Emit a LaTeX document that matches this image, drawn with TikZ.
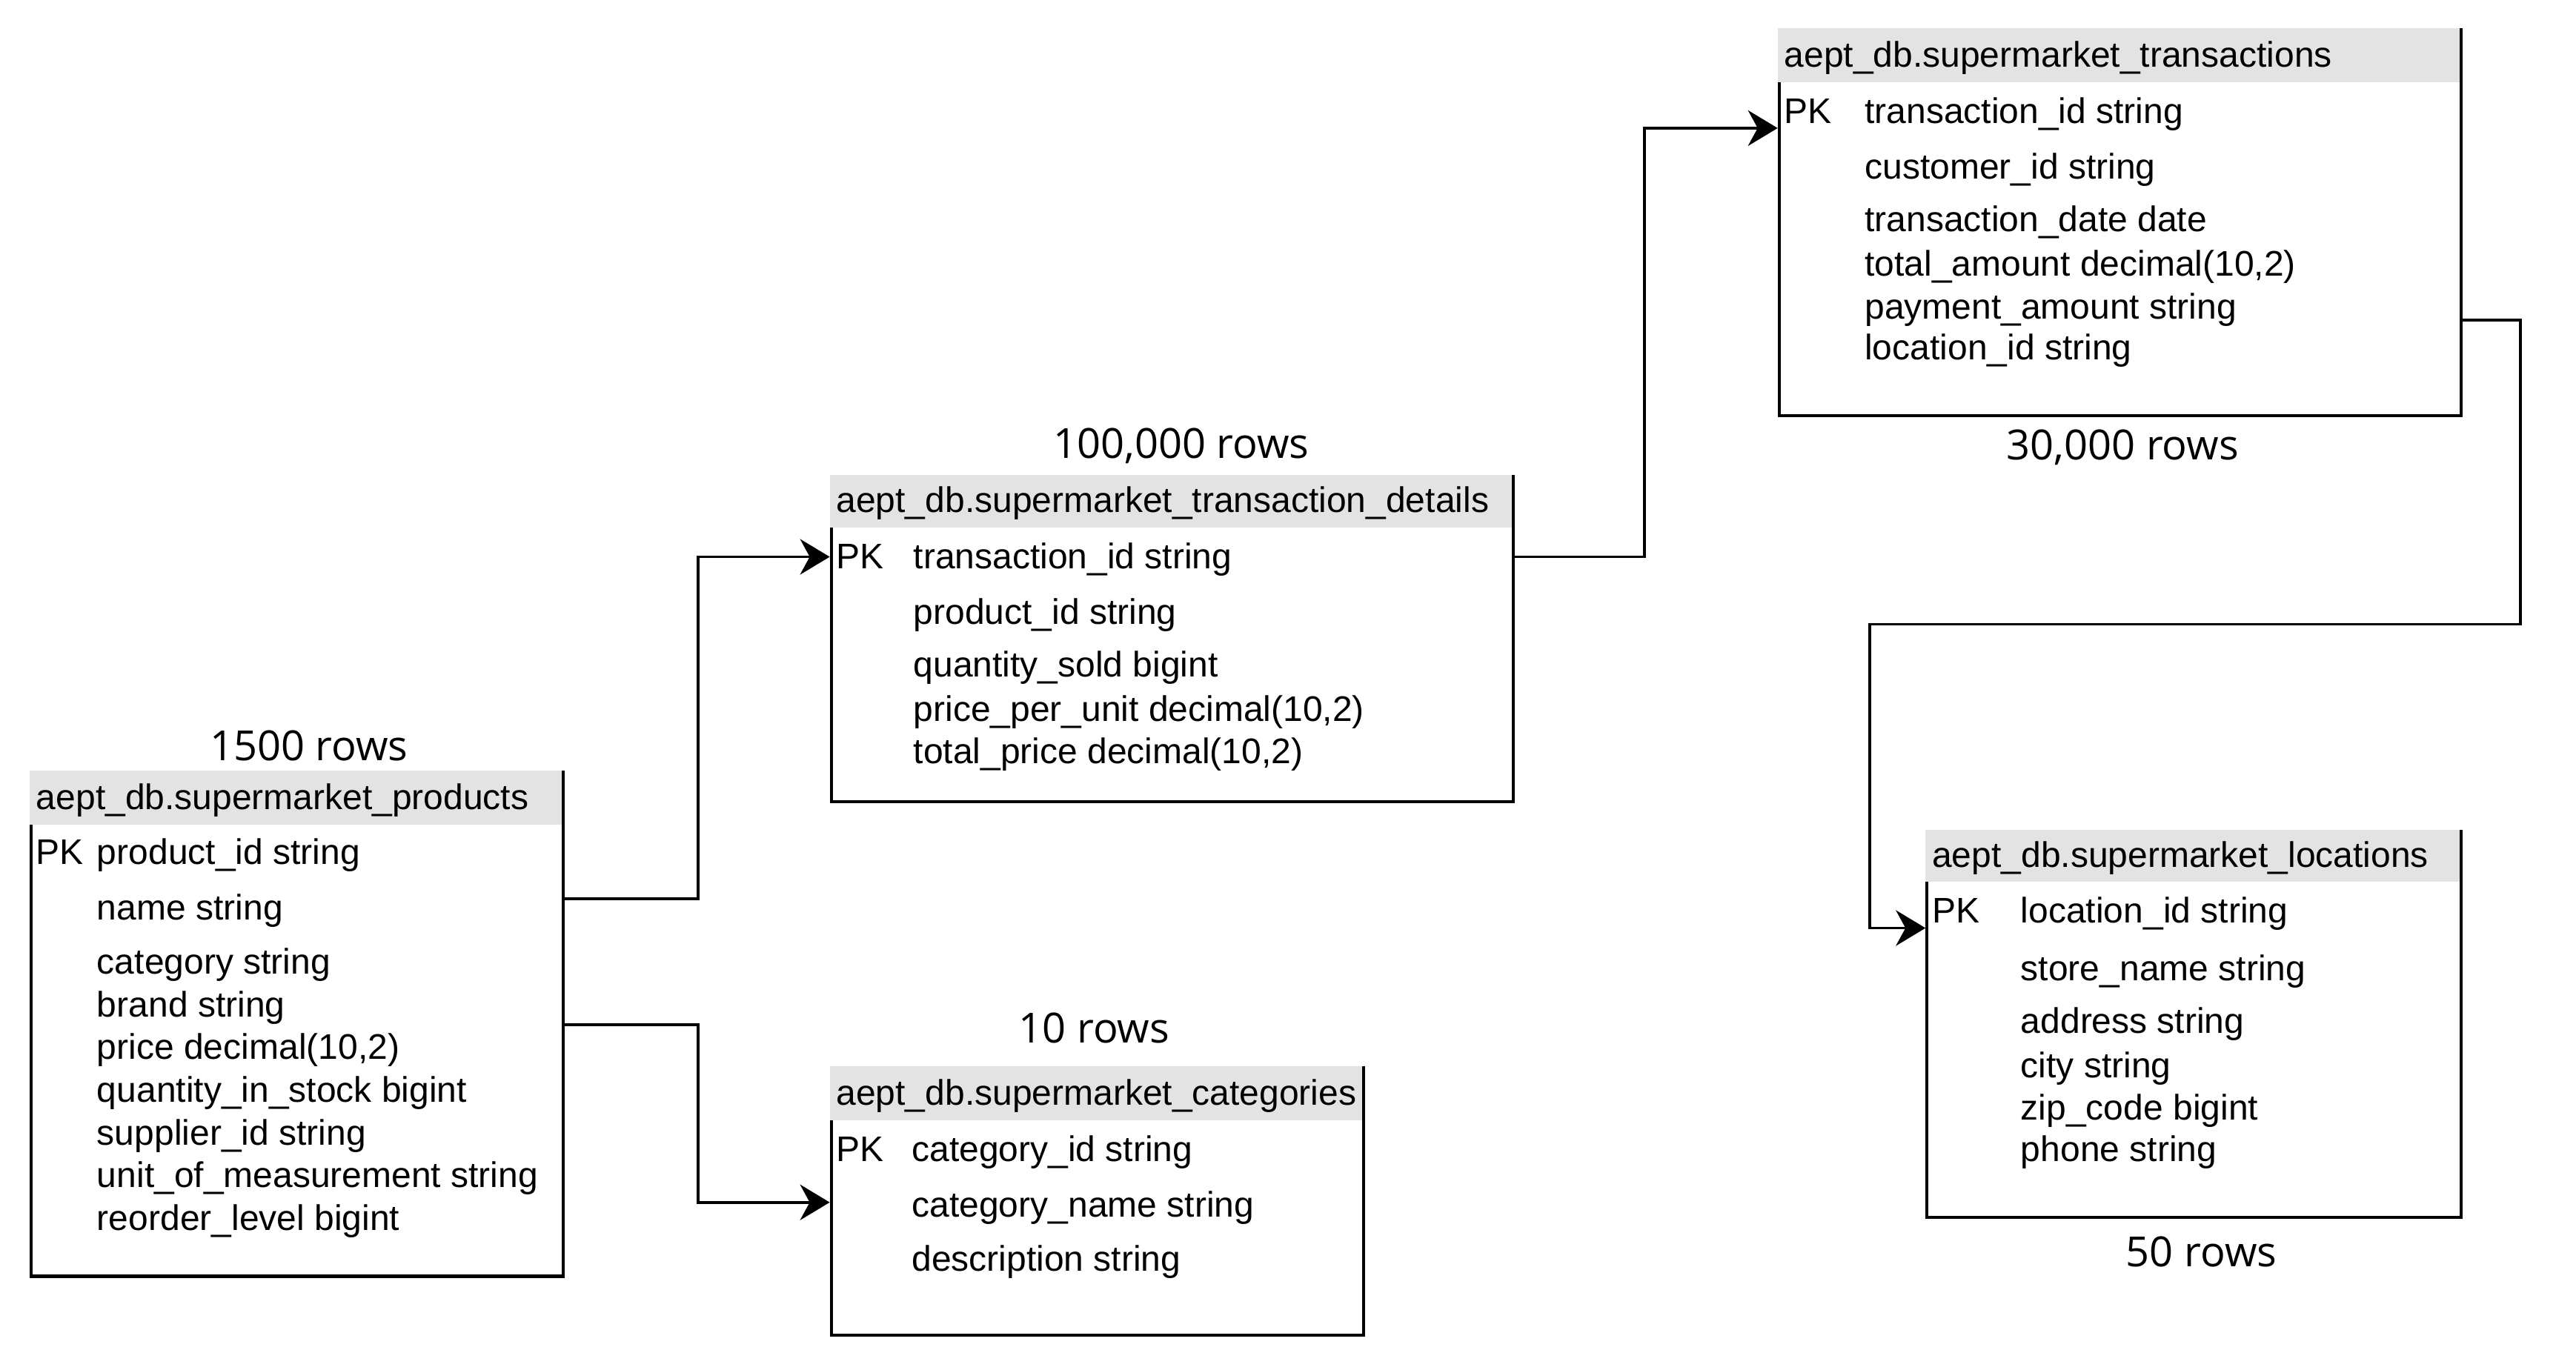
\documentclass[tikz,border=0pt]{standalone}
\usepackage{fontspec}
\setmainfont{Liberation Sans}
\newfontfamily\rowsfont{Open Sans}
\usetikzlibrary{fit,arrows.meta}
\definecolor{hdrgray}{RGB}{227,227,227}
\tikzset{
  tbox/.style={draw=black, line width=4.2pt, inner sep=0pt},
  thead/.style={fill=hdrgray, inner sep=0pt},
  ttext/.style={anchor=base west, inner sep=0pt, font=\fontsize{48}{58}\selectfont},
  rowslbl/.style={anchor=base, inner sep=0pt, font=\rowsfont\fontsize{56}{66}\selectfont},
  conn/.style={draw=black, line width=3.8pt, line join=miter, -{Stealth[length=40pt,width=48pt,inset=13pt]}},
}
\begin{document}
\begin{tikzpicture}[x=2.2168pt, y=-2.2168pt]
\useasboundingbox (0,0) rectangle (1568,834);

% ---------- products ----------
\node[tbox, fit={(19,470) (343,777)}] (prod) {};
\node[thead, fit={(18.1,469.1) (342,502)}] (prodh) {};
\node[ttext] (prodt) at (22,493) {aept\_db.supermarket\_products};
\node[rowslbl] (prodn) at (188,463) {1500 rows};
\node[ttext] (prodpk) at (22,526) {PK};
\node[ttext] (prod1) at (59,526) {product\_id string};
\node[ttext] (prod2) at (59,560) {name string};
\node[ttext] (prod3) at (59,593) {category string};
\node[ttext] (prod4) at (59,619) {brand string};
\node[ttext] (prod5) at (59,645) {price decimal(10,2)};
\node[ttext] (prod6) at (59,671) {quantity\_in\_stock bigint};
\node[ttext] (prod7) at (59,697) {supplier\_id string};
\node[ttext] (prod8) at (59,723) {unit\_of\_measurement string};
\node[ttext] (prod9) at (59,749) {reorder\_level bigint};

% ---------- transaction details ----------
\node[tbox, fit={(506,290) (921,488)}] (det) {};
\node[thead, fit={(505.1,289.1) (920,321)}] (deth) {};
\node[ttext] (dett) at (509,312) {aept\_db.supermarket\_transaction\_details};
\node[rowslbl] (detn) at (719,279) {100,000 rows};
\node[ttext] (detpk) at (509,346) {PK};
\node[ttext] (det1) at (556,346) {transaction\_id string};
\node[ttext] (det2) at (556,380) {product\_id string};
\node[ttext] (det3) at (556,412) {quantity\_sold bigint};
\node[ttext] (det4) at (556,439) {price\_per\_unit decimal(10,2)};
\node[ttext] (det5) at (556,465) {total\_price decimal(10,2)};

% ---------- transactions ----------
\node[tbox, fit={(1083,18) (1498,253)}] (tra) {};
\node[thead, fit={(1082.1,17.1) (1497,50)}] (trah) {};
\node[ttext] (trat) at (1086,41) {aept\_db.supermarket\_transactions};
\node[rowslbl] (tran) at (1292,280) {30,000 rows};
\node[ttext] (trapk) at (1086,75) {PK};
\node[ttext] (tra1) at (1135,75) {transaction\_id string};
\node[ttext] (tra2) at (1135,109) {customer\_id string};
\node[ttext] (tra3) at (1135,141) {transaction\_date date};
\node[ttext] (tra4) at (1135,168) {total\_amount decimal(10,2)};
\node[ttext] (tra5) at (1135,194) {payment\_amount string};
\node[ttext] (tra6) at (1135,219) {location\_id string};

% ---------- locations ----------
\node[tbox, fit={(1173,506) (1498,741)}] (loc) {};
\node[thead, fit={(1172.1,505.1) (1497,537)}] (loch) {};
\node[ttext] (loct) at (1176,528) {aept\_db.supermarket\_locations};
\node[rowslbl] (locn) at (1340,771) {50 rows};
\node[ttext] (locpk) at (1176,562) {PK};
\node[ttext] (loc1) at (1230,562) {location\_id string};
\node[ttext] (loc2) at (1230,597) {store\_name string};
\node[ttext] (loc3) at (1230,629) {address string};
\node[ttext] (loc4) at (1230,656) {city string};
\node[ttext] (loc5) at (1230,682) {zip\_code bigint};
\node[ttext] (loc6) at (1230,707) {phone string};

% ---------- categories ----------
\node[tbox, fit={(506,650) (830,813)}] (cat) {};
\node[thead, fit={(505.1,649.1) (829,682)}] (cath) {};
\node[ttext] (catt) at (509,673) {aept\_db.supermarket\_categories};
\node[rowslbl] (catn) at (666,635) {10 rows};
\node[ttext] (catpk) at (509,707) {PK};
\node[ttext] (cat1) at (555,707) {category\_id string};
\node[ttext] (cat2) at (555,741) {category\_name string};
\node[ttext] (cat3) at (555,774) {description string};

% ---------- connectors ----------
\draw[conn] (prod.east |- 0,547) -- (425,547) |- (det.west |- 0,339);
\draw[conn] (prod.east |- 0,624) -- (425,624) |- (cat.west |- 0,732);
\draw[conn] (det.east |- 0,339) -- (1001,339) |- (tra.west |- 0,78);
\draw[conn] (tra.east |- 0,195) -- (1534,195) -- (1534,380) -- (1138,380) |- (loc.west |- 0,565);
\end{tikzpicture}
\end{document}
